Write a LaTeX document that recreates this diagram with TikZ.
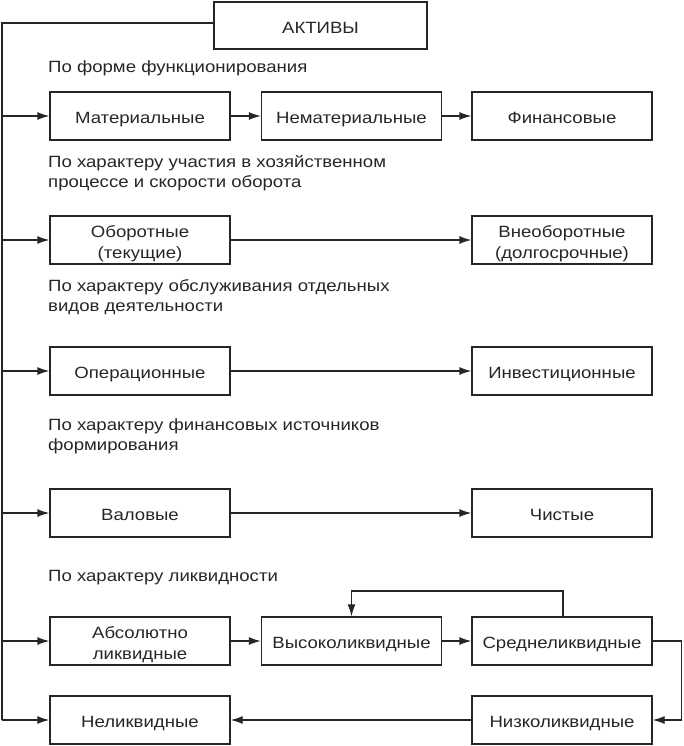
\documentclass[tikz,border=0pt]{standalone}
\usepackage{fontspec}
\setmainfont{Liberation Sans}[FakeStretch=1.14]
\usetikzlibrary{arrows.meta}
\newcommand{\bxtext}[1]{\raisebox{-3.5pt}[\height][\depth]{\renewcommand{\arraystretch}{1.05}\begin{tabular}{@{}c@{}}#1\end{tabular}}}
\begin{document}
\begin{tikzpicture}[x=1pt,y=-1pt,
  box/.style={draw=black!85,line width=1.3pt,minimum height=48pt,inner sep=0pt,font=\fontsize{16.3}{20}\selectfont,text=black!85},
  boxA/.style={box,minimum width=180pt},
  lbl/.style={anchor=west,align=left,inner sep=0pt,font=\fontsize{16.3}{20}\selectfont,text=black!85},
  conn/.style={draw=black!85,line width=1.3pt},
  arr/.style={conn,-{Latex[length=12pt,width=8pt]}}]
\useasboundingbox (0,0) rectangle (683,746);
% top
\node[box,minimum width=213pt,minimum height=47pt] (akt) at (320.5,25.5) {\bxtext{АКТИВЫ}};
% labels
\node[lbl] (l1) at (48,68.5) {По форме функционирования};
\node[lbl] (l2) at (48,173) {По характеру участия в хозяйственном\\процессе и скорости оборота};
\node[lbl] (l3) at (48,297.5) {По характеру обслуживания отдельных\\видов деятельности};
\node[lbl] (l4) at (48,436.5) {По характеру финансовых источников\\формирования};
\node[lbl] (l5) at (48,577.5) {По характеру ликвидности};
% row 1
\node[boxA] (a1) at (140,116) {\bxtext{Материальные}};
\node[boxA] (b1) at (351.5,116) {\bxtext{Нематериальные}};
\node[boxA] (c1) at (562,116) {\bxtext{Финансовые}};
% row 2
\node[boxA] (a2) at (140,240) {\bxtext{Оборотные\\(текущие)}};
\node[boxA] (c2) at (562,240) {\bxtext{Внеоборотные\\(долгосрочные)}};
% row 3
\node[boxA] (a3) at (140,371) {\bxtext{Операционные}};
\node[boxA] (c3) at (562,371) {\bxtext{Инвестиционные}};
% row 4
\node[boxA] (a4) at (140,513) {\bxtext{Валовые}};
\node[boxA] (c4) at (562,513) {\bxtext{Чистые}};
% row 5
\node[boxA] (a5) at (140,641) {\bxtext{Абсолютно\\ликвидные}};
\node[boxA] (b5) at (351.5,641) {\bxtext{Высоколиквидные}};
\node[boxA] (c5) at (562,641) {\bxtext{Среднеликвидные}};
% row 6
\node[boxA] (a6) at (140,720) {\bxtext{Неликвидные}};
\node[boxA] (c6) at (562,720) {\bxtext{Низколиквидные}};
% trunk
\coordinate (t0) at (2,23);
\coordinate (t6) at (2,720);
\draw[conn] (akt.west |- t0) -- (t0) -- (t6);
\foreach \n in {a1,a2,a3,a4,a5,a6}{
  \draw[arr] (t0 |- \n.west) -- (\n.west);
}
% horizontal connectors
\draw[arr] (a1) -- (b1);
\draw[arr] (b1) -- (c1);
\draw[arr] (a2) -- (c2);
\draw[arr] (a3) -- (c3);
\draw[arr] (a4) -- (c4);
\draw[arr] (a5) -- (b5);
\draw[arr] (b5) -- (c5);
\draw[arr] (c6) -- (a6);
% loops
\coordinate (lt) at (563,591);
\draw[arr] (lt |- c5.north) -- (lt) -- (lt -| b5.north) -- (b5.north);
\coordinate (rl) at (681.5,641);
\draw[arr] (c5.east) -- (rl) -- (rl |- c6.east) -- (c6.east);
\end{tikzpicture}
\end{document}
